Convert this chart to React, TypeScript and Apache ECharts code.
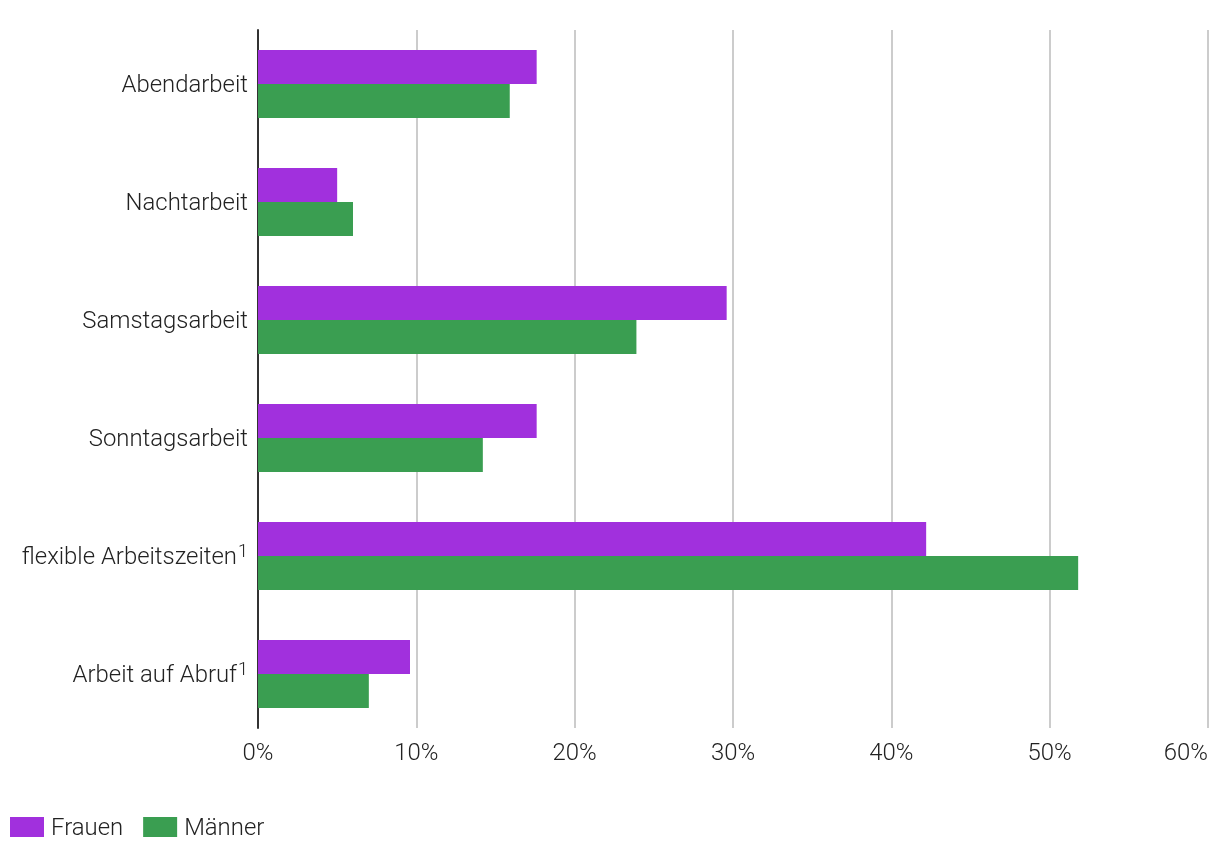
import React, { useEffect, useRef } from "react";
import * as echarts from "echarts";

const categories = [
  "Abendarbeit",
  "Nachtarbeit",
  "Samstagsarbeit",
  "Sonntagsarbeit",
  "flexible Arbeitszeiten",
  "Arbeit auf Abruf",
];
const footnoted = [false, false, false, false, true, true];
const frauen = [17.6, 5.0, 29.6, 17.6, 42.2, 9.6];
const maenner = [15.9, 6.0, 23.9, 14.2, 51.8, 7.0];
const seriesNames = ["Frauen", "Männer"];
const colors = ["#A130DD", "#3A9E51"];
const xTicks = { min: 0, max: 60, interval: 10 };

const FONT = "Roboto";
const FS = 23.9;
const TXT = "#222222";

export default function App() {
  const ref = useRef<HTMLDivElement>(null);
  useEffect(() => {
    if (!ref.current) return;
    const chart = echarts.init(ref.current, undefined, { renderer: "svg" });
    chart.setOption({
      animation: false,
      textStyle: { fontFamily: FONT, fontWeight: 300 },
      grid: [
        // frame grid: split lines, axis line, x labels
        { left: 258, right: 12, top: 30, bottom: 130, outerBoundsMode: "none", containLabel: false },
        // bars grid
        { left: 258, right: 12, top: 25, bottom: 125, outerBoundsMode: "none", containLabel: false },
      ],
      legend: {
        left: 10,
        top: 815,
        padding: 0,
        itemWidth: 34,
        itemHeight: 20,
        itemGap: 20,
        icon: "rect",
        textStyle: {
          fontFamily: FONT,
          fontWeight: 300,
          fontSize: FS,
          color: TXT,
          padding: [0, 0, 0, 2],
        },
        data: seriesNames,
      },
      xAxis: [
        {
          gridIndex: 0,
          type: "value",
          ...xTicks,
          axisLine: { show: false },
          axisTick: { show: false },
          splitLine: { show: true, lineStyle: { color: "#cccccc", width: 2 } },
          axisLabel: {
            formatter: "{value}%",
            fontFamily: FONT,
            fontWeight: 300,
            fontSize: FS,
            color: TXT,
            margin: 12,
            alignMaxLabel: "right",
          },
        },
        {
          gridIndex: 1,
          type: "value",
          ...xTicks,
          show: false,
          splitLine: { show: false },
        },
      ],
      yAxis: [
        {
          gridIndex: 0,
          type: "category",
          inverse: true,
          data: categories,
          axisLine: { show: true, lineStyle: { color: "#333333", width: 2 } },
          axisTick: { show: false },
          axisLabel: { show: false },
          splitLine: { show: false },
        },
        {
          gridIndex: 1,
          type: "category",
          inverse: true,
          data: categories,
          axisLine: { show: false },
          axisTick: { show: false },
          splitLine: { show: false },
          axisLabel: {
            fontFamily: FONT,
            fontWeight: 300,
            fontSize: FS,
            color: TXT,
            margin: 10,
            formatter: (v: string) => {
              const i = categories.indexOf(v);
              return footnoted[i] ? `{n|${v}}{s|1}` : `{n|${v}}`;
            },
            rich: {
              n: { fontFamily: FONT, fontWeight: 300, fontSize: FS, color: TXT },
              s: {
                fontFamily: FONT,
                fontWeight: 300,
                fontSize: 18,
                color: TXT,
                padding: [0, 0, 12, 1],
              },
            },
          },
        },
      ],
      series: [
        {
          name: seriesNames[0],
          type: "bar",
          xAxisIndex: 1,
          yAxisIndex: 1,
          data: frauen,
          itemStyle: { color: colors[0] },
          barGap: "0%",
          barCategoryGap: "42.37%",
        },
        {
          name: seriesNames[1],
          type: "bar",
          xAxisIndex: 1,
          yAxisIndex: 1,
          data: maenner,
          itemStyle: { color: colors[1] },
          barGap: "0%",
          barCategoryGap: "42.37%",
        },
      ],
    });
    return () => chart.dispose();
  }, []);
  return (
    <div
      ref={ref}
      style={{ position: "fixed", left: 0, top: 0, width: 1220, height: 858 }}
    />
  );
}
